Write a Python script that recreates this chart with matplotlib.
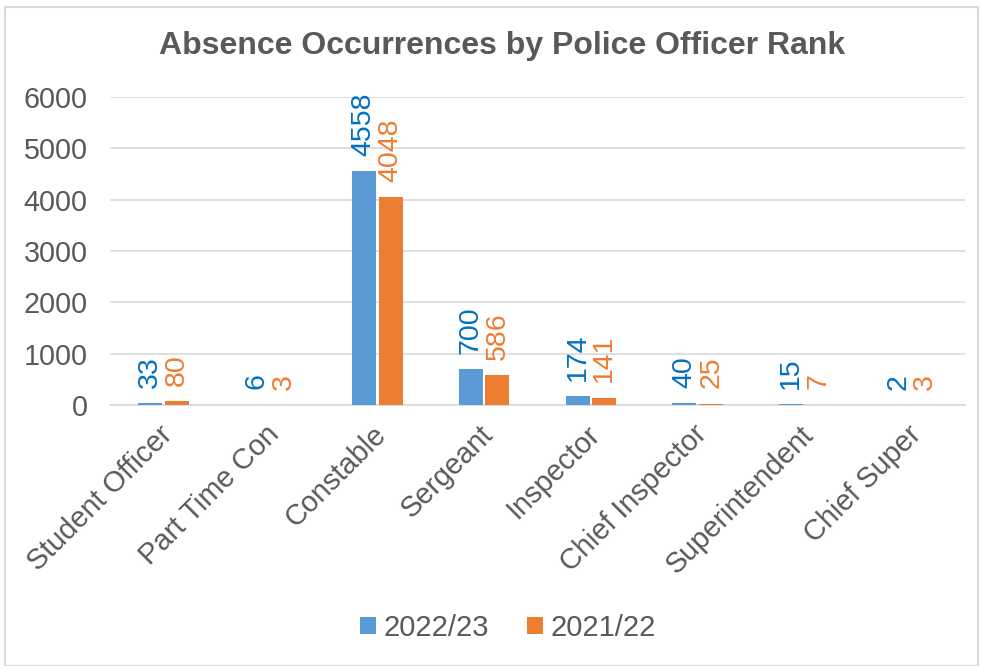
import numpy as np
import matplotlib.pyplot as plt
import matplotlib.transforms as mtransforms
from matplotlib.patches import Rectangle

plt.rcParams['font.family'] = ['Liberation Sans', 'DejaVu Sans']

# datos
ranks = ['Student Officer', 'Part Time Con', 'Constable', 'Sergeant',
         'Inspector', 'Chief Inspector', 'Superintendent', 'Chief Super']
y2223 = [33, 6, 4558, 700, 174, 40, 15, 2]
y2122 = [80, 3, 4048, 586, 141, 25, 7, 3]
series_names = ['2022/23', '2021/22']

grey = '#595959'
blue = '#5B9BD5'
orange = '#ED7D31'

fig = plt.figure(figsize=(9.81, 6.66), dpi=100)
ax = fig.add_axes([110 / 981, 1 - 405 / 666, 855 / 981, 308 / 666])

x = np.arange(len(ranks))
w = 0.225
b1 = ax.bar(x - 0.125, y2223, w, color=blue, label=series_names[0], zorder=3)
b2 = ax.bar(x + 0.125, y2122, w, color=orange, label=series_names[1], zorder=3)

# etiquetas de datos
for bars, vals, col in [(b1, y2223, '#0070C0'), (b2, y2122, orange)]:
    for r, v in zip(bars, vals):
        ax.annotate(str(v), (r.get_x() + r.get_width() / 2, v),
                    xytext=(0, 11), textcoords='offset points',
                    rotation=90, ha='center', va='bottom',
                    fontsize=20.5, color=col)

ax.set_xlim(-0.5, len(ranks) - 0.5)
ax.set_ylim(0, 6000)
ax.set_yticks(np.arange(0, 6001, 1000))
ax.yaxis.grid(True, color='#D9D9D9', lw=1.2, zorder=0)
ax.set_axisbelow(True)
for s in ['top', 'right', 'left']:
    ax.spines[s].set_visible(False)
ax.spines['bottom'].set_color('#D9D9D9')
ax.spines['bottom'].set_linewidth(1.2)
ax.tick_params(axis='both', length=0, labelsize=20.7, colors=grey)
ax.tick_params(axis='y', pad=16)
ax.tick_params(axis='x', pad=11, labelsize=20.8)
ax.set_xticks(x)
ax.set_xticklabels(ranks, rotation=45, ha='right', rotation_mode='anchor')
shift = mtransforms.ScaledTranslation(-5 / 100, 0, fig.dpi_scale_trans)
for lab in ax.get_xticklabels():
    lab.set_transform(lab.get_transform() + shift)

fig.text(502 / 981, 1 - 46 / 666, 'Absence Occurrences by Police Officer Rank',
         ha='center', va='center', fontsize=23, fontweight='bold', color=grey)

fig.legend(handles=[b1, b2], loc='center', bbox_to_anchor=(0.518, 1 - 628 / 666),
           ncol=2, frameon=False, fontsize=21, labelcolor=grey,
           handlelength=0.55, handleheight=0.55, handletextpad=0.25,
           columnspacing=1.3)

fig.patches.append(Rectangle((5 / 981, 0), 973 / 981, 1 - 7 / 666,
                             transform=fig.transFigure, fill=False,
                             edgecolor='#D9D9D9', lw=1.5))

fig.savefig('out.png', dpi=100)
